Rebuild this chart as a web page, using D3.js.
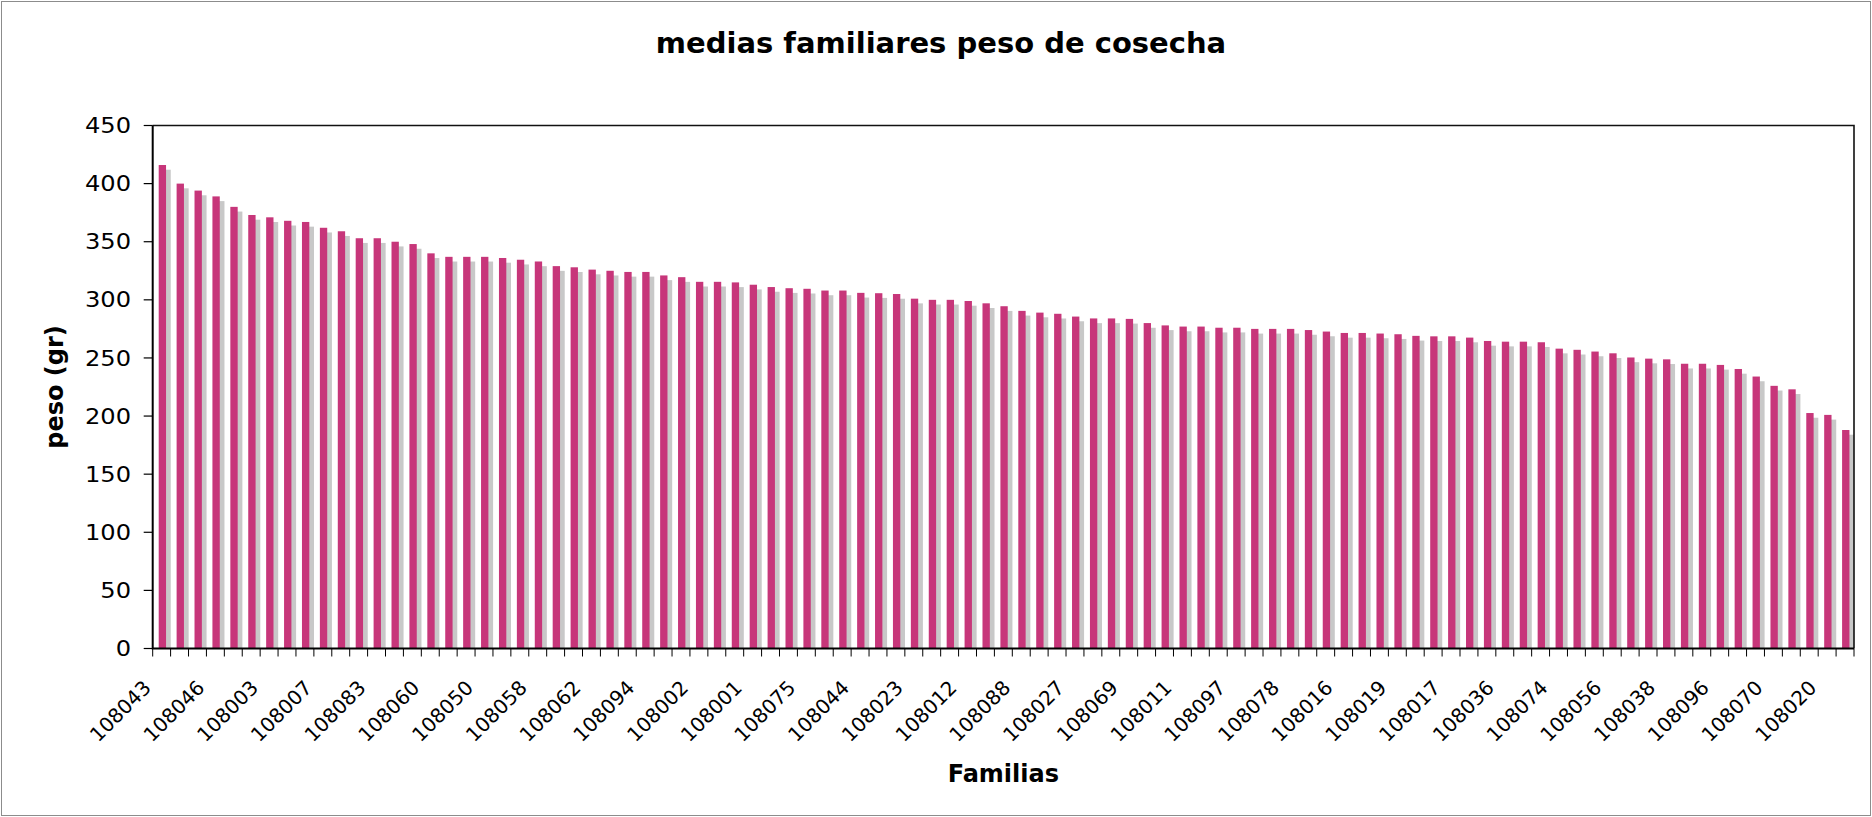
<!DOCTYPE html>
<html><head><meta charset="utf-8">
<script src="https://cdn.jsdelivr.net/npm/d3@7"></script>
<style>
body{margin:0;background:#fff}
svg{display:block}
text{font-family:"DejaVu Sans",Verdana,sans-serif;fill:#000}
</style></head>
<body><svg width="1872" height="817"></svg>
<script>
// ---- data ----
const titulo = "medias familiares peso de cosecha";
const tituloY = "peso (gr)";
const tituloX = "Familias";
// labelled families (every third category is labelled on the axis)
const familias = ["108043","108046","108003","108007","108083","108060","108050","108058","108062","108094","108002","108001","108075","108044","108023","108012","108088","108027","108069","108011","108097","108078","108016","108019","108017","108036","108074","108056","108038","108096","108070","108020"];
const pasoRotulo = 3;
// mean harvest weight per family (95 families)
const pesos = [416,400,394,389,380,373,371,368,367,362,359,353,353,350,348,340,337,337,337,336,
  334.5,333,329,328,326,325,324,324,321,319.5,315.5,315.5,315,313,311,310,309.5,308,308,306,
  305.7,305,301,300,300,299,297,294.5,290.5,289,288,285.6,284,284,283.6,280,278,277,277,276,
  276,275,275,275,274,272.7,271.5,271.5,271,270.4,269,268.6,268.6,267.5,264.6,264,264,263.5,258,257,
  255.5,254,250.4,249.4,248.8,245,245,244,240.5,234,226,223,202.6,201,188];
const yTicks = [0,50,100,150,200,250,300,350,400,450];

// ---- layout ----
const W = 1872, H = 817;
const m = {l:152.7, r:1854, t:125.5, b:648.5};
const svg = d3.select("svg");

svg.append("rect").attr("x",1.5).attr("y",1.5).attr("width",W-3).attr("height",H-3)
  .attr("fill","#fff").attr("stroke","#8c8c8c").attr("stroke-width",1);

const x = d3.scaleBand().domain(d3.range(pesos.length)).range([m.l, m.r]);
const y = d3.scaleLinear().domain([0,450]).range([m.b, m.t]);
const bw = x.bandwidth();
const barOff = bw*0.335, barW = bw*0.41, sh = 4.7;

// shadows
svg.append("g").selectAll("rect").data(pesos).join("rect")
  .attr("x",(d,i)=>x(i)+barOff+sh)
  .attr("y",d=>y(d)+sh)
  .attr("width",barW)
  .attr("height",d=>m.b-y(d)-sh)
  .attr("fill","#c8c8c8");
// bars
svg.append("g").selectAll("rect").data(pesos).join("rect")
  .attr("x",(d,i)=>x(i)+barOff)
  .attr("y",d=>y(d))
  .attr("width",barW)
  .attr("height",d=>m.b-y(d))
  .attr("fill","#c7367a");

// frame (top & right)
svg.append("path").attr("d",`M${m.l},${m.t}H${m.r}V${m.b}`)
  .attr("fill","none").attr("stroke","#111").attr("stroke-width",1.6);
// axes lines
svg.append("path").attr("d",`M${m.l},${m.t}V${m.b}H${m.r}`)
  .attr("fill","none").attr("stroke","#000").attr("stroke-width",2);

// y ticks
const gy = svg.append("g");
yTicks.forEach(v=>{
  gy.append("line").attr("x1",m.l-9).attr("x2",m.l).attr("y1",y(v)).attr("y2",y(v))
    .attr("stroke","#000").attr("stroke-width",1.2);
  gy.append("g").attr("transform",`translate(131,${y(v)}) scale(1.15,1)`)
    .append("text").attr("text-anchor","end").attr("dy","0.36em")
    .style("font-size","21px").text(v);
});

// x ticks at category boundaries
const gx = svg.append("g");
d3.range(pesos.length+1).forEach(i=>{
  const xp = i<pesos.length ? x(i) : m.r;
  gx.append("line").attr("x1",xp).attr("x2",xp).attr("y1",m.b).attr("y2",m.b+8)
    .attr("stroke","#000").attr("stroke-width",1);
});
familias.forEach((f,k)=>{
  const i = k*pasoRotulo;
  const cx = x(i)+bw/2;
  gx.append("text").attr("transform",`translate(${cx-9.5},689) rotate(-45)`)
    .attr("text-anchor","end").style("font-size","20px").text(f);
});

// titles
svg.append("text").attr("x",941).attr("y",53).attr("text-anchor","middle")
  .style("font-size","29px").style("font-weight","bold").text(titulo);
svg.append("text").attr("x",(m.l+m.r)/2).attr("y",782).attr("text-anchor","middle")
  .style("font-size","24px").style("font-weight","bold").text(tituloX);
svg.append("text").attr("transform",`translate(63,${(m.t+m.b)/2}) rotate(-90)`)
  .attr("text-anchor","middle").style("font-size","24px").style("font-weight","bold").text(tituloY);
</script>
</body></html>
